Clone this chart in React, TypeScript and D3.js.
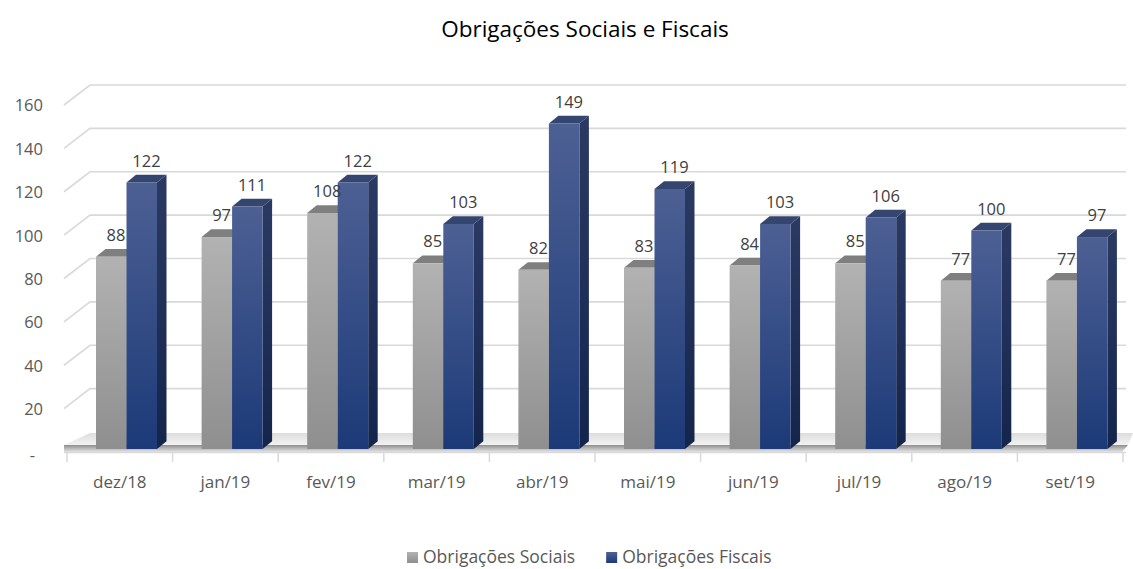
import React, { useEffect, useRef } from "react";
import * as d3 from "d3";

// data
const categories = ["dez/18", "jan/19", "fev/19", "mar/19", "abr/19", "mai/19", "jun/19", "jul/19", "ago/19", "set/19"];
const sociais = [88, 97, 108, 85, 82, 83, 84, 85, 77, 77];
const fiscais = [122, 111, 122, 103, 149, 119, 103, 106, 100, 97];
const seriesNames = ["Obrigações Sociais", "Obrigações Fiscais"];
const yTicks = [0, 20, 40, 60, 80, 100, 120, 140, 160];

const W = 1133;
const H = 569;
const FONT = "'Open Sans', 'Noto Sans', sans-serif";

const drawChart = (el: SVGSVGElement) => {
  const svg = d3.select(el);
  svg.selectAll("*").remove();

  const defs = svg.append("defs");
  const grad = (id: string, stops: [string, string], horiz = false) => {
    const g = defs
      .append("linearGradient")
      .attr("id", id)
      .attr("x1", 0)
      .attr("y1", 0)
      .attr("x2", horiz ? 1 : 0)
      .attr("y2", horiz ? 0 : 1);
    g.append("stop").attr("offset", "0%").attr("stop-color", stops[0]);
    g.append("stop").attr("offset", "100%").attr("stop-color", stops[1]);
  };
  grad("grayFront", ["#b2b2b2", "#8f8f8f"]);
  grad("graySide", ["#7a7a7a", "#666666"]);
  grad("blueFront", ["#4d6094", "#1c3a78"]);
  grad("blueSide", ["#2b3a63", "#14254c"]);
  grad("floorTop", ["#dddddd", "#f2f2f2"]);
  grad("floorEdge", ["#8e8e8e", "#e4e4e4"]);

  // wall (gridlines) and bar scales
  const yWall = d3.scaleLinear().domain([0, 160]).range([452, 105]);
  const yBar = d3.scaleLinear().domain([0, 160]).range([449, 99.4]);
  const wallDx = 26;
  const wallDy = 20;
  const depthX = 9.5;
  const depthY = 7.7;

  const x0 = d3.scaleBand().domain(categories).range([67, 1123]);
  const x1 = d3.scaleBand().domain(seriesNames).range([29, 90]);

  // gridlines
  const grid = svg.append("g").attr("stroke", "#d9d9d9").attr("stroke-width", 1.6).attr("fill", "none");
  yTicks
    .filter((t) => t > 0)
    .forEach((t) => {
      const yf = yWall(t);
      grid
        .append("polyline")
        .attr("points", `64,${yf} ${64 + wallDx},${yf - wallDy} 1126,${yf - wallDy}`);
    });

  // floor
  const yf0 = yWall(0);
  svg
    .append("polygon")
    .attr("points", `${64 + wallDx},${yf0 - wallDy + 1} 1133,${yf0 - wallDy + 1} 1128,${yf0 - 7} 64,${yf0 - 7}`)
    .attr("fill", "url(#floorTop)");
  svg
    .append("polygon")
    .attr("points", `64,${yf0 - 7} 1128,${yf0 - 7} 1122,${yf0} 64,${yf0}`)
    .attr("fill", "url(#floorEdge)");
  svg
    .append("line")
    .attr("x1", 64)
    .attr("x2", 1126)
    .attr("y1", yf0 + 0.5)
    .attr("y2", yf0 + 0.5)
    .attr("stroke", "#d9d9d9")
    .attr("stroke-width", 1.5);

  // x ticks
  const bounds = categories.map((c) => x0(c) as number).concat([1123]);
  svg
    .append("g")
    .selectAll("line")
    .data(bounds)
    .enter()
    .append("line")
    .attr("x1", (d) => d)
    .attr("x2", (d) => d)
    .attr("y1", yf0 + 1)
    .attr("y2", yf0 + 10)
    .attr("stroke", "#d9d9d9")
    .attr("stroke-width", 1.5);

  // y labels
  svg
    .append("g")
    .selectAll("text")
    .data(yTicks)
    .enter()
    .append("text")
    .attr("x", (d) => (d === 0 ? 35 : 43))
    .attr("y", (d) => yWall(d) + (d === 0 ? 5 : 2))
    .attr("dominant-baseline", "middle")
    .attr("text-anchor", "end")
    .attr("font-family", FONT)
    .attr("font-size", 16.5)
    .attr("fill", "#595959")
    .text((d) => (d === 0 ? "-" : String(d)));

  // category labels
  svg
    .append("g")
    .selectAll("text")
    .data(categories)
    .enter()
    .append("text")
    .attr("x", (d) => (x0(d) as number) + x0.bandwidth() / 2)
    .attr("y", 483)
    .attr("dominant-baseline", "middle")
    .attr("text-anchor", "middle")
    .attr("font-family", FONT)
    .attr("font-size", 17)
    .attr("fill", "#595959")
    .text((d) => d);

  // 3d bars
  const series = [
    { name: seriesNames[0], values: sociais, front: "url(#grayFront)", top: "#7f7f7f", side: "url(#graySide)" },
    { name: seriesNames[1], values: fiscais, front: "url(#blueFront)", top: "#34466f", side: "url(#blueSide)" },
  ];
  const w = x1.bandwidth();
  const bars = svg.append("g");
  const labels = svg.append("g");
  categories.forEach((c, i) => {
    series.forEach((s) => {
      const v = s.values[i];
      const x = (x0(c) as number) + (x1(s.name) as number);
      const y = yBar(v);
      const yb = yBar(0);
      const g = bars.append("g");
      g.append("polygon")
        .attr("points", `${x + w},${y} ${x + w + depthX},${y - depthY} ${x + w + depthX},${yb - depthY} ${x + w},${yb}`)
        .attr("fill", s.side);
      g.append("polygon")
        .attr("points", `${x},${y} ${x + depthX},${y - depthY} ${x + w + depthX},${y - depthY} ${x + w},${y}`)
        .attr("fill", s.top);
      g.append("rect")
        .attr("x", x)
        .attr("y", y)
        .attr("width", w)
        .attr("height", yb - y)
        .attr("fill", s.front);
      labels
        .append("text")
        .attr("x", x + w / 2 + depthX / 2)
        .attr("y", y - depthY - 12.5)
        .attr("dominant-baseline", "middle")
        .attr("text-anchor", "middle")
        .attr("font-family", FONT)
        .attr("font-size", 16.5)
        .attr("fill", "#404040")
        .text(v);
    });
  });

  // title
  svg
    .append("text")
    .attr("x", 585)
    .attr("y", 31)
    .attr("dominant-baseline", "middle")
    .attr("text-anchor", "middle")
    .attr("font-family", FONT)
    .attr("font-size", 22.5)
    .attr("fill", "#000000")
    .text("Obrigações Sociais e Fiscais");

  // legend
  const leg = svg.append("g").attr("font-family", FONT).attr("font-size", 17.5).attr("fill", "#595959");
  let lx = 407;
  [
    { name: seriesNames[0], fill: "url(#grayFront)" },
    { name: seriesNames[1], fill: "url(#blueFront)" },
  ].forEach((d) => {
    leg.append("rect").attr("x", lx).attr("y", 552).attr("width", 11).attr("height", 11).attr("fill", d.fill);
    const t = leg
      .append("text")
      .attr("x", lx + 16)
      .attr("y", 558)
      .attr("dominant-baseline", "middle")
      .text(d.name);
    const len = (t.node() as SVGTextElement).getComputedTextLength();
    lx += 16 + len + 31;
  });
};

const App = () => {
  const ref = useRef<SVGSVGElement>(null);
  useEffect(() => {
    if (ref.current) drawChart(ref.current);
  });
  return (
    <svg
      ref={ref}
      width={W}
      height={H}
      style={{ position: "absolute", left: 0, top: 0, background: "#ffffff" }}
    />
  );
};

export default App;
